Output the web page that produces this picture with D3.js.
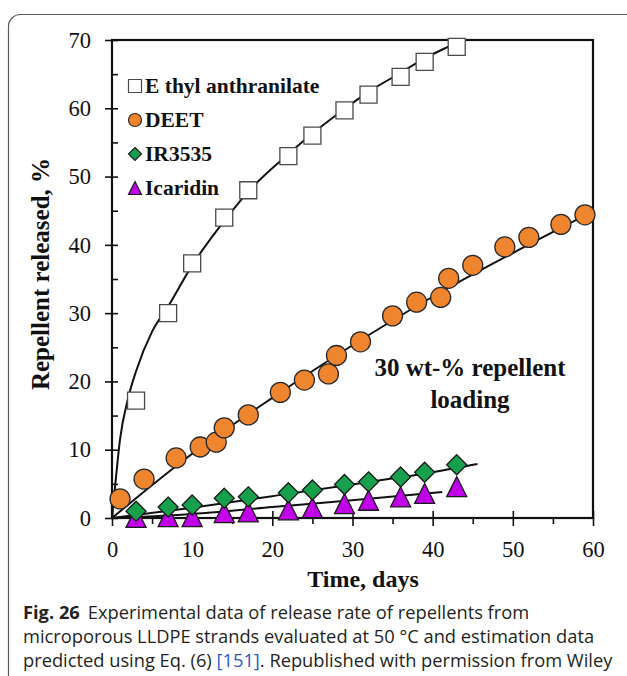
<!DOCTYPE html>
<html>
<head>
<meta charset="utf-8">
<script src="https://cdn.jsdelivr.net/npm/d3@7"></script>
<style>
  body { margin: 0; background: #fff; }
  svg { display: block; }
  .serif { font-family: "Liberation Serif", "Times New Roman", serif; }
  .cap { font-family: "Open Sans", "Noto Sans", sans-serif; fill: #231f20; }
</style>
</head>
<body>
<svg id="chart" width="627" height="676"></svg>
<script>
// ── Data ─────────────────────────────────────────────────────────────────────
const ethylDays  = [3, 7, 10, 14, 17, 22, 25, 29, 32, 36, 39, 43];
const ethylVals  = [17.2, 30.0, 37.3, 44.0, 48.0, 53.0, 56.0, 59.7, 62.0, 64.6, 66.8, 69.0];

const deetDays   = [1, 4, 8, 11, 13, 14, 17, 21, 24, 27, 28, 31, 35, 38, 41, 42, 45, 49, 52, 56, 59];
const deetVals   = [2.8, 5.7, 8.8, 10.4, 11.1, 13.2, 15.1, 18.4, 20.2, 21.1, 23.8, 25.8, 29.6, 31.6, 32.3, 35.1, 37.0, 39.7, 41.1, 43.0, 44.4];

const irDays     = [3, 7, 10, 14, 17, 22, 25, 29, 32, 36, 39, 43];
const irVals     = [1.0, 1.6, 1.9, 2.9, 3.1, 3.7, 4.1, 4.9, 5.3, 6.0, 6.7, 7.8];

const icaDays    = [3, 7, 10, 14, 17, 22, 25, 29, 32, 36, 39, 43];
const icaVals    = [0.1, 0.2, 0.2, 0.8, 0.9, 1.2, 1.5, 2.1, 2.6, 3.1, 3.6, 4.6];

// model curves (Eq. 6)
const ethylFit = [[0, 0], [0.5, 6], [1, 11.5], [2, 17.5], [3, 21.5], [5, 27.3], [7, 31], [10, 37], [14, 43.5], [17, 47.8], [22, 53.3], [25, 56.3], [29, 59.9], [32, 62.4], [36, 65.2], [39, 67.3], [43.8, 70]];
const deetFit  = [[0, 0], [10, 9.4], [20, 17.6], [30, 25.3], [40, 32.4], [50, 38.8], [59.5, 44.6]];
const irFit    = [[0, 0], [10, 1.5], [20, 3.2], [31, 5.1], [40, 6.7], [45.6, 7.9]];
const icaFit   = [[0, 0], [10, 0.6], [20, 1.6], [31, 2.7], [41.2, 3.8]];

const xMajor = [0, 10, 20, 30, 40, 50, 60];
const xMinor = [5, 15, 25, 35, 45, 55];
const yMajor = [0, 10, 20, 30, 40, 50, 60, 70];
const yAll   = d3.range(0, 71, 5);

const legendItems = [
  { label: "E thyl anthranilate", shape: "square" },
  { label: "DEET", shape: "circle" },
  { label: "IR3535", shape: "diamond" },
  { label: "Icaridin", shape: "triangle" }
];

// ── Setup ────────────────────────────────────────────────────────────────────
const svg = d3.select("#chart");

const x = d3.scaleLinear().domain([0, 60]).range([112, 593]);
const y = d3.scaleLinear().domain([0, 70]).range([518, 40]);

const styles = {
  square:   { fill: "#ffffff", stroke: "#4a4a4a", size: 17 },
  circle:   { fill: "#f0852f", stroke: "#2a2a2a", size: 20 },
  diamond:  { fill: "#16a04c", stroke: "#1a1a1a", size: 20 },
  triangle: { fill: "#c000e8", stroke: "#1a1a1a", size: 20 }
};

function shapePath(shape, s) {
  const h = s / 2;
  if (shape === "square")  return `M${-h},${-h}H${h}V${h}H${-h}Z`;
  if (shape === "diamond") return `M0,${-h}L${h},0L0,${h}L${-h},0Z`;
  if (shape === "triangle") return `M0,${-h}L${h},${h}L${-h},${h}Z`;
  return d3.arc()({ innerRadius: 0, outerRadius: h, startAngle: 0, endAngle: 2 * Math.PI });
}

// outer card border
svg.append("rect")
  .attr("x", 8.5).attr("y", 14.5)
  .attr("width", 640).attr("height", 700)
  .attr("rx", 12)
  .attr("fill", "none")
  .attr("stroke", "#5a5a5a")
  .attr("stroke-width", 1.2);

// ── Axes ─────────────────────────────────────────────────────────────────────
svg.append("g")
  .attr("class", "serif")
  .attr("transform", `translate(${x(0)},0)`)
  .call(d3.axisLeft(y).tickValues(yMajor).tickSize(7).tickPadding(14));

svg.append("g")
  .attr("transform", `translate(${x(0)},0)`)
  .call(d3.axisRight(y).tickValues(yAll).tickSize(6).tickFormat(""));

svg.append("g")
  .attr("class", "serif")
  .attr("transform", `translate(0,${y(0)})`)
  .call(d3.axisBottom(x).tickValues(xMajor).tickSize(8).tickPadding(15));

svg.append("g")
  .attr("transform", `translate(0,${y(0)})`)
  .call(d3.axisBottom(x).tickValues(xMinor).tickSize(6).tickFormat(""));

svg.append("g")
  .attr("transform", `translate(0,${y(0)})`)
  .call(d3.axisTop(x).tickValues(xMajor).tickSize(7).tickFormat(""));

svg.selectAll(".domain").remove();
svg.selectAll(".tick line").attr("stroke", "#111").attr("stroke-width", 1.6);
svg.selectAll(".tick text")
  .attr("font-family", "Liberation Serif, Times New Roman, serif")
  .attr("font-size", 22.5)
  .attr("fill", "#111");

// plot frame
svg.append("rect")
  .attr("x", x(0)).attr("y", y(70))
  .attr("width", x(60) - x(0)).attr("height", y(0) - y(70))
  .attr("fill", "none")
  .attr("stroke", "#111")
  .attr("stroke-width", 2.2);

// axis titles
svg.append("text")
  .attr("class", "serif")
  .attr("transform", "translate(49,274) rotate(-90)")
  .attr("text-anchor", "middle")
  .attr("font-size", 25)
  .attr("font-weight", "bold")
  .attr("fill", "#111")
  .text("Repellent released, %");

svg.append("text")
  .attr("class", "serif")
  .attr("x", 363).attr("y", 587)
  .attr("text-anchor", "middle")
  .attr("font-size", 24)
  .attr("font-weight", "bold")
  .attr("fill", "#111")
  .text("Time, days");

// ── Fit lines ────────────────────────────────────────────────────────────────
const line = d3.line()
  .x((d) => x(d[0]))
  .y((d) => y(d[1]))
  .curve(d3.curveMonotoneX);

[ethylFit, deetFit, irFit, icaFit].forEach((fit) => {
  svg.append("path")
    .attr("d", line(fit))
    .attr("fill", "none")
    .attr("stroke", "#111")
    .attr("stroke-width", 2);
});

// ── Markers ──────────────────────────────────────────────────────────────────
const series = [
  { shape: "triangle", days: icaDays, vals: icaVals },
  { shape: "diamond", days: irDays, vals: irVals },
  { shape: "circle", days: deetDays, vals: deetVals },
  { shape: "square", days: ethylDays, vals: ethylVals }
];

series.forEach((s) => {
  const st = styles[s.shape];
  svg.append("g")
    .selectAll("path")
    .data(s.days.map((d, i) => [d, s.vals[i]]))
    .join("path")
    .attr("transform", (d) => `translate(${x(d[0])},${y(d[1])})`)
    .attr("d", shapePath(s.shape, st.size))
    .attr("fill", st.fill)
    .attr("stroke", st.stroke)
    .attr("stroke-width", 1.3);
});

// ── Legend ───────────────────────────────────────────────────────────────────
const legend = svg.append("g").attr("transform", "translate(135,86)");
legendItems.forEach((item, i) => {
  const st = styles[item.shape];
  const g = legend.append("g").attr("transform", `translate(0,${i * 34})`);
  g.append("path")
    .attr("d", shapePath(item.shape, 13))
    .attr("fill", st.fill)
    .attr("stroke", st.stroke)
    .attr("stroke-width", 1.2);
  g.append("text")
    .attr("class", "serif")
    .attr("x", 10).attr("y", 7)
    .attr("font-size", 21.5)
    .attr("font-weight", "bold")
    .attr("fill", "#111")
    .text(item.label);
});

// annotation
const note = svg.append("text")
  .attr("class", "serif")
  .attr("text-anchor", "middle")
  .attr("font-size", 25)
  .attr("font-weight", "bold")
  .attr("fill", "#111");
note.append("tspan").attr("x", 470).attr("y", 376).text("30 wt-% repellent");
note.append("tspan").attr("x", 470).attr("y", 408).text("loading");

// ── Caption ──────────────────────────────────────────────────────────────────
const cap = svg.append("g").attr("class", "cap").attr("font-size", 18.3);
const l1 = cap.append("text").attr("x", 23).attr("y", 619);
l1.append("tspan").attr("font-weight", "bold").text("Fig. 26");
l1.append("tspan").attr("dx", 8).text("Experimental data of release rate of repellents from");
cap.append("text").attr("x", 23).attr("y", 643)
  .text("microporous LLDPE strands evaluated at 50 °C and estimation data");
const l3 = cap.append("text").attr("x", 23).attr("y", 667);
l3.append("tspan").text("predicted using Eq. (6) ");
l3.append("tspan").attr("fill", "#2e57c8").text("[151]");
l3.append("tspan").text(". Republished with permission from Wiley");
</script>
</body>
</html>
